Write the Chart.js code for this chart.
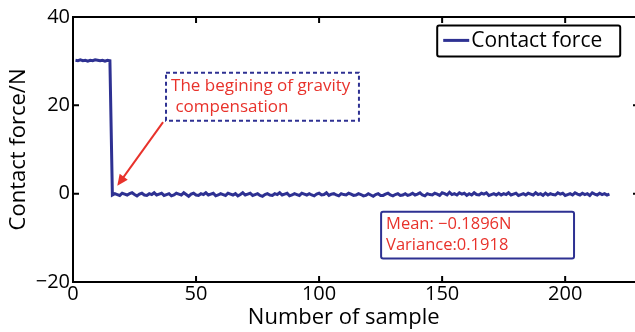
<!DOCTYPE html>
<html>
<head>
<meta charset="utf-8">
<script src="https://cdn.jsdelivr.net/npm/chart.js@4/dist/chart.umd.min.js"></script>
<style>
  html, body { margin: 0; padding: 0; background: #fff; overflow: hidden; }
  #wrap { width: 640px; height: 332px; }
</style>
</head>
<body>
<div id="wrap"><canvas id="forceChart" width="640" height="332"></canvas></div>
<script>
// Contact force before gravity compensation starts (samples 1-15)
const plateauForce = [30.2, 30.1, 30.3, 30.1, 30.2, 30.0, 30.2, 30.1, 30.3, 30.2, 30.1, 30.2, 30.0, 30.2, 30.1];
// Contact force after compensation (samples 16-218)
const settledForce = [
  -0.3, 0.0, -0.2, -0.4, 0.1, -0.1, -0.3, 0.0, 0.2, -0.2, -0.5, -0.1, 0.1, -0.3, -0.4, 0.0, -0.2, 0.2, -0.3, -0.1,
  0.1, -0.4, -0.2, 0.0, -0.5, -0.3, 0.1, -0.1, -0.3, 0.2, -0.2, -0.6, -0.1, 0.1, -0.3, -0.4, 0.0, -0.2, 0.2, -0.3,
  -0.1, 0.1, -0.5, -0.3, 0.0, -0.2, -0.4, 0.1, -0.1, -0.3, 0.0, -0.5, -0.2, 0.2, -0.3, -0.1, 0.1, -0.4, -0.2, 0.0,
  -0.4, -0.6, -0.2, 0.0, -0.3, -0.4, 0.0, -0.2, 0.2, -0.3, -0.1, 0.1, -0.5, -0.3, 0.0, -0.2, -0.4, 0.1, -0.1, -0.3,
  0.0, -0.3, -0.5, -0.1, 0.1, -0.3, -0.2, 0.2, -0.4, -0.1, 0.0, -0.3, -0.5, 0.0, -0.2, -0.3, 0.1, -0.1, -0.4, -0.3,
  0.0, -0.2, -0.5, -0.4, 0.0, -0.3, -0.6, -0.2, 0.0, -0.4, -0.4, -0.1, 0.1, -0.3, -0.5, -0.2, 0.0, -0.4, -0.3, 0.0,
  -0.4, -0.2, 0.1, -0.3, -0.1, 0.2, -0.3, -0.5, 0.0, -0.2, -0.3, 0.1, -0.1, -0.4, 0.2, 0.0, -0.3, 0.3, -0.2, 0.0,
  -0.3, 0.2, -0.1, 0.1, -0.4, 0.0, -0.3, 0.2, -0.2, -0.3, 0.1, -0.1, 0.2, -0.4, -0.2, 0.0, -0.3, 0.1, -0.3, 0.0,
  -0.2, 0.2, -0.3, -0.1, 0.1, -0.4, -0.2, 0.0, -0.3, 0.1, -0.1, -0.3, 0.2, -0.2, 0.0, -0.4, 0.1, -0.3, 0.0, -0.2,
  -0.3, 0.2, -0.1, 0.1, -0.4, -0.2, 0.0, -0.3, 0.2, -0.1, -0.3, 0.1, -0.2, 0.0, -0.4, 0.2, -0.1, -0.3, 0.1, -0.2,
  0.0, -0.3, -0.1
];
const xTicks = [0, 50, 100, 150, 200];
const yTicks = [-20, 0, 20, 40];
const noteLines = ["The begining of gravity", " compensation"];
const statLines = ["Mean: \u22120.1896N", "Variance:0.1918"];

const forceValues = plateauForce.concat(settledForce);
const points = forceValues.map(function (v, i) { return { x: i + 1, y: v }; });

const NAVY = "#2e3192";
const RED = "#e8322b";
const FONT = "'Open Sans', sans-serif";

// draws the frame, inward ticks, x title, legend and the two text boxes
const decorPlugin = {
  id: "decor",
  afterDraw: function (chart) {
    const ctx = chart.ctx;
    const a = chart.chartArea;
    const xs = chart.scales.x, ys = chart.scales.y;
    ctx.save();
    ctx.strokeStyle = "#000";
    ctx.lineWidth = 2;
    ctx.strokeRect(a.left, a.top, a.right - a.left, a.bottom - a.top);
    ctx.beginPath();
    xTicks.forEach(function (t) {
      const px = xs.getPixelForValue(t);
      ctx.moveTo(px, a.bottom); ctx.lineTo(px, a.bottom - 6);
      ctx.moveTo(px, a.top); ctx.lineTo(px, a.top + 6);
    });
    yTicks.forEach(function (t) {
      const py = ys.getPixelForValue(t);
      ctx.moveTo(a.left, py); ctx.lineTo(a.left + 6, py);
      ctx.moveTo(a.right, py); ctx.lineTo(a.right - 6, py);
    });
    ctx.stroke();

    // x axis title, sits a little left of the plot centre in the original
    ctx.fillStyle = "#000";
    ctx.font = "22px " + FONT;
    ctx.textAlign = "center";
    ctx.textBaseline = "middle";
    ctx.fillText("Number of sample", xs.getPixelForValue(110), 318);
    ctx.textAlign = "left";

    // legend
    const lx = xs.getPixelForValue(148), ly = ys.getPixelForValue(38.1);
    ctx.lineWidth = 2;
    ctx.strokeStyle = "#000";
    ctx.beginPath();
    ctx.roundRect(lx, ly, 183, 31, 2);
    ctx.stroke();
    ctx.strokeStyle = NAVY;
    ctx.lineWidth = 3;
    ctx.beginPath();
    ctx.moveTo(lx + 6, ly + 15); ctx.lineTo(lx + 32, ly + 15);
    ctx.stroke();
    ctx.fillStyle = "#000";
    ctx.font = "21px " + FONT;
    ctx.fillText("Contact force", lx + 34, ly + 16);

    // note box with arrow
    const nx1 = xs.getPixelForValue(37.8), nx2 = xs.getPixelForValue(116.2);
    const ny1 = ys.getPixelForValue(27.4), ny2 = ys.getPixelForValue(16.5);
    ctx.strokeStyle = NAVY;
    ctx.lineWidth = 2;
    ctx.setLineDash([4, 3]);
    ctx.strokeRect(nx1, ny1, nx2 - nx1, ny2 - ny1);
    ctx.setLineDash([]);
    ctx.fillStyle = RED;
    ctx.font = "17px " + FONT;
    ctx.fillText(noteLines[0], nx1 + 5, ny1 + 14);
    ctx.fillText(noteLines[1], nx1 + 5, ny1 + 35);

    const ax1 = xs.getPixelForValue(36.6), ay1 = ys.getPixelForValue(16.2);
    const ax2 = xs.getPixelForValue(18.0), ay2 = ys.getPixelForValue(1.8);
    const ang = Math.atan2(ay2 - ay1, ax2 - ax1);
    ctx.strokeStyle = RED;
    ctx.lineWidth = 2;
    ctx.beginPath();
    ctx.moveTo(ax1, ay1);
    ctx.lineTo(ax2 - 6 * Math.cos(ang), ay2 - 6 * Math.sin(ang));
    ctx.stroke();
    ctx.beginPath();
    ctx.moveTo(ax2, ay2);
    ctx.lineTo(ax2 - 11 * Math.cos(ang) + 5 * Math.sin(ang), ay2 - 11 * Math.sin(ang) - 5 * Math.cos(ang));
    ctx.lineTo(ax2 - 11 * Math.cos(ang) - 5 * Math.sin(ang), ay2 - 11 * Math.sin(ang) + 5 * Math.cos(ang));
    ctx.closePath();
    ctx.fill();

    // statistics box
    const sx1 = xs.getPixelForValue(125.2), sx2 = xs.getPixelForValue(203.6);
    const sy1 = ys.getPixelForValue(-4.1), sy2 = ys.getPixelForValue(-14.7);
    ctx.strokeStyle = NAVY;
    ctx.lineWidth = 2;
    ctx.beginPath();
    ctx.roundRect(sx1, sy1, sx2 - sx1, sy2 - sy1, 2);
    ctx.stroke();
    ctx.fillStyle = RED;
    ctx.font = "16.5px " + FONT;
    ctx.fillText(statLines[0], sx1 + 5, sy1 + 13);
    ctx.fillText(statLines[1], sx1 + 5, sy1 + 34);
    ctx.restore();
  }
};

const config = {
  type: "line",
  data: {
    datasets: [{
      label: "Contact force",
      data: points,
      borderColor: NAVY,
      borderWidth: 3,
      pointRadius: 0,
      tension: 0,
      fill: false
    }]
  },
  options: {
    responsive: false,
    animation: false,
    events: [],
    layout: { padding: { left: 0, right: 1, top: 17, bottom: 0 } },
    plugins: {
      legend: { display: false },
      tooltip: { enabled: false }
    },
    scales: {
      x: {
        type: "linear",
        min: 0,
        max: 230,
        afterBuildTicks: function (s) { s.ticks = xTicks.map(function (v) { return { value: v }; }); },
        afterFit: function (s) { s.height = 50; },
        grid: { display: false, drawTicks: false },
        border: { display: false },
        ticks: { color: "#000", font: { size: 20, family: FONT }, padding: 0, maxRotation: 0 },
        title: { display: false }
      },
      y: {
        min: -20,
        max: 40,
        afterBuildTicks: function (s) { s.ticks = yTicks.map(function (v) { return { value: v }; }); },
        afterFit: function (s) { s.width = 73; },
        grid: { display: false, drawTicks: false },
        border: { display: false },
        ticks: {
          color: "#000", font: { size: 20, family: FONT }, padding: 3,
          callback: function (v) { return String(v).replace("-", "\u2212"); }
        },
        title: { display: true, text: "Contact force/N", color: "#000", font: { size: 22, family: FONT }, padding: 6 }
      }
    }
  },
  plugins: [decorPlugin]
};

new Chart(document.getElementById("forceChart"), config);
</script>
</body>
</html>
